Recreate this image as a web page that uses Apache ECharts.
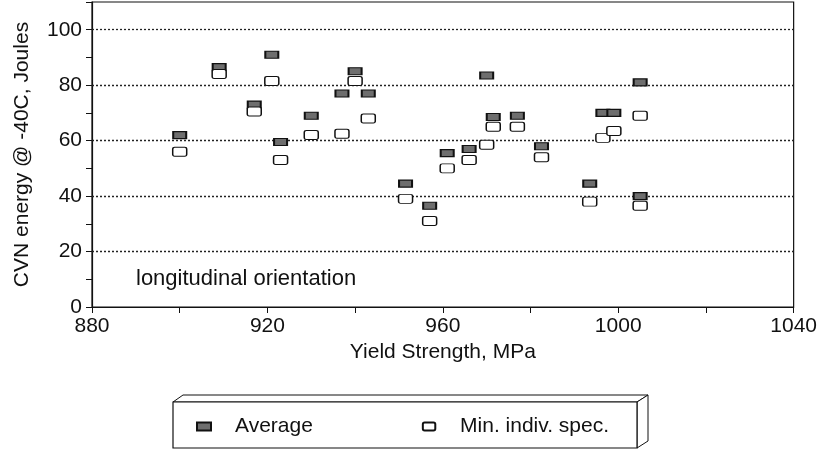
<!DOCTYPE html>
<html>
<head>
<meta charset="utf-8">
<script src="https://cdn.jsdelivr.net/npm/echarts@6/dist/echarts.min.js"></script>
<style>
  html, body { margin: 0; padding: 0; background: #fff; }
  #chart { width: 820px; height: 460px; }
</style>
</head>
<body>
<div id="chart"></div>
<script>
// yield strength (MPa) of each test
const yieldStrength = [900, 909, 917, 921, 923, 930, 937, 940, 943, 951.5, 957, 961, 966, 970, 971.5, 977, 982.5, 993.5, 996.5, 999, 1005, 1005]
// CVN energy at -40C, Joules
const averageCvn = [62, 86.5, 73, 91, 59.5, 69, 77, 85, 77, 44.5, 36.5, 55.5, 57, 83.5, 68.5, 69, 58, 44.5, 70, 70, 81, 40]
const minIndivCvn = [56, 84, 70.5, 81.5, 53, 62, 62.5, 81.5, 68, 39, 31, 50, 53, 58.5, 65, 65, 54, 38, 61, 63.5, 69, 36.5]
// dotted grid lines
const gridValues = [20, 40, 60, 80, 100]

const FONT = "'Liberation Sans', Arial, Helvetica, sans-serif"
// box with slightly rounded corners for the min. values
const MIN_SYMBOL = 'path://M2,0 H12 Q14,0 14,2 V7 Q14,9 12,9 H2 Q0,9 0,7 V2 Q0,0 2,0 Z'

const chart = echarts.init(document.getElementById('chart'))

const pairs = (xs, ys) => xs.map((x, i) => [x, ys[i]])

chart.setOption({
  animation: false,
  backgroundColor: '#fff',
  textStyle: { fontFamily: FONT, color: '#111' },
  grid: {
    left: 92, right: 26, top: 2, bottom: 153,
    show: true, borderColor: '#111', borderWidth: 1.2, backgroundColor: 'transparent'
  },
  xAxis: {
    type: 'value', min: 880, max: 1040, interval: 20,
    name: 'Yield Strength, MPa', nameLocation: 'middle', nameGap: 33,
    nameTextStyle: { fontSize: 21, color: '#111' },
    axisLine: { lineStyle: { color: '#111', width: 1.2 } },
    axisTick: { show: true, length: 6, lineStyle: { color: '#111' } },
    axisLabel: {
      fontSize: 21, color: '#111', margin: 9,
      formatter: v => (v % 40 === 0 ? String(v) : '')
    },
    splitLine: { show: false }
  },
  yAxis: {
    type: 'value', min: 0, max: 110, interval: 10,
    name: 'CVN energy @ -40C, Joules', nameLocation: 'middle', nameGap: 59,
    nameTextStyle: { fontSize: 21, color: '#111' },
    axisLine: { show: true, lineStyle: { color: '#111', width: 1.2 } },
    axisTick: { show: true, length: 6, lineStyle: { color: '#111' } },
    axisLabel: {
      fontSize: 21, color: '#111', margin: 10,
      formatter: v => (v % 20 === 0 && v <= 100 ? String(v) : '')
    },
    splitLine: { show: false }
  },
  legend: {
    left: 191, top: 411,
    itemWidth: 14, itemHeight: 8, itemGap: 109,
    textStyle: { fontSize: 21, color: '#111', padding: [0, 0, 0, 19] },
    data: [
      { name: 'Average', icon: 'rect' },
      { name: 'Min. indiv. spec.', icon: MIN_SYMBOL }
    ]
  },
  graphic: [
    // 3D legend box
    { type: 'polygon', shape: { points: [[173, 402], [183, 395], [648, 395], [637, 402]] },
      style: { fill: '#fff', stroke: '#111', lineWidth: 1 }, z: -1 },
    { type: 'polygon', shape: { points: [[637, 402], [648, 395], [648, 441], [637, 448]] },
      style: { fill: '#fff', stroke: '#111', lineWidth: 1 }, z: -1 },
    { type: 'rect', shape: { x: 173, y: 402, width: 464, height: 46 },
      style: { fill: '#fff', stroke: '#111', lineWidth: 1.2 }, z: -1 },
    { type: 'text', left: 136, top: 268,
      style: { text: 'longitudinal orientation', font: '22px ' + FONT, fill: '#111' } }
  ],
  series: [
    {
      name: 'Average', type: 'scatter', z: 3,
      symbol: 'rect', symbolSize: [13, 7],
      itemStyle: { color: '#6e6e6e', borderColor: '#111', borderWidth: 1.5, opacity: 1 },
      data: pairs(yieldStrength, averageCvn),
      markLine: {
        silent: true, symbol: 'none', z: 1,
        label: { show: false },
        lineStyle: { color: '#222', type: [2, 2], width: 1.3 },
        data: gridValues.map(v => ({ yAxis: v }))
      }
    },
    {
      name: 'Min. indiv. spec.', type: 'scatter', z: 3,
      symbol: MIN_SYMBOL, symbolSize: [14, 9],
      itemStyle: { color: '#fff', borderColor: '#111', borderWidth: 1.2, opacity: 1 },
      data: pairs(yieldStrength, minIndivCvn)
    }
  ]
})
</script>
</body>
</html>
